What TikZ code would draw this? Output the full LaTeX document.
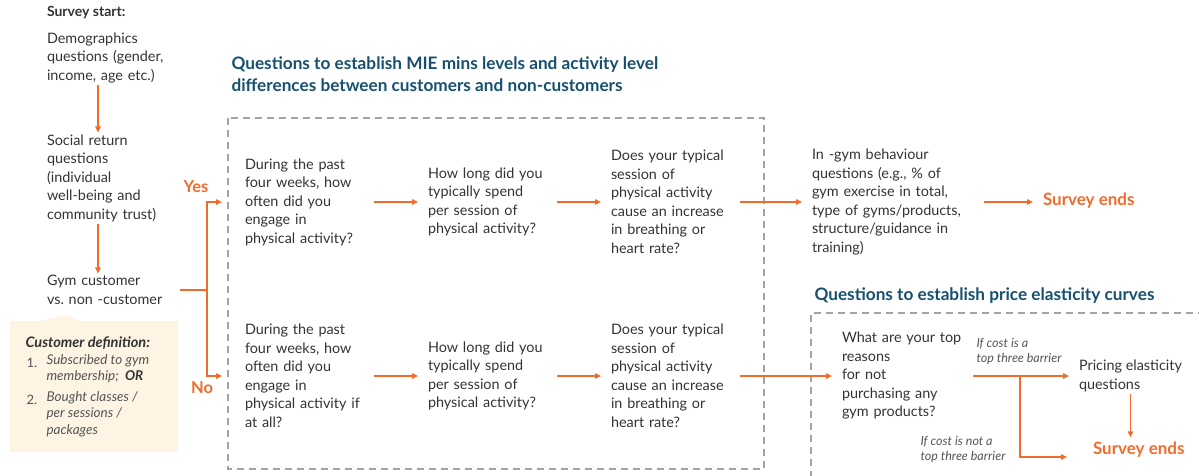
\documentclass[tikz,border=0pt]{standalone}
\usepackage{fontspec}
\setmainfont{Lato}
\usetikzlibrary{arrows.meta}
\definecolor{flow}{HTML}{F26B2B}
\definecolor{ink}{HTML}{333333}
\definecolor{soft}{HTML}{555555}
\definecolor{head}{HTML}{16506E}
\definecolor{frame}{HTML}{A3A3A3}
\definecolor{note}{HTML}{FDF4E3}

\begin{document}
\begin{tikzpicture}[x=1pt,y=-1pt,>={Triangle[length=6pt,width=5.5pt]},line width=1.1pt,
    q node/.style={anchor=west,align=left,inner sep=0pt,outer sep=10pt,text=ink,font=\fontsize{14.4}{18.5}\selectfont},
    side node/.style={q node,outer xsep=10pt,outer ysep=2pt},
    end node/.style={anchor=west,inner sep=0pt,outer xsep=10pt,outer ysep=5pt,text=flow,font=\fontsize{17}{20}\selectfont\bfseries},
    cond node/.style={anchor=west,align=left,inner sep=0pt,text=soft,font=\fontsize{12.5}{15}\selectfont\itshape},
    title node/.style={anchor=west,align=left,inner sep=0pt,text=head,font=\fontsize{17.2}{22}\selectfont\bfseries},
    item node/.style={anchor=north west,align=left,inner sep=0pt,text=soft,font=\fontsize{13.5}{16.5}\selectfont\itshape},
    box/.style={draw=frame,line width=1.2pt,dash pattern=on 7pt off 5pt}]
    \useasboundingbox (0,0) rectangle (1199,476);

    % left column
    \node[side node,font=\fontsize{14}{16}\selectfont\bfseries] (start) at (37,13) {Survey start:};
    \node[side node,text width=125] (demo) at (37,58) {Demographics\\questions (gender,\\income, age etc.)};
    \node[side node,text width=125] (social) at (37,178) {Social return\\questions\\(individual\\well-being and\\community trust)};
    \node[side node,text width=125] (gym) at (37,290) {Gym customer\\vs.\ non -customer};

    % customer definition note
    \fill[note] (10,321) -- (40,321) -- (68,315) -- (80,321) -- (178,321) -- (178,452) -- (10,452) -- cycle;
    \node[anchor=base west,inner sep=0pt,text=ink,font=\fontsize{14.5}{16}\selectfont\bfseries\itshape] (defn) at (25,347) {Customer definition:};
    \node[anchor=base west,inner sep=0pt,text=soft,font=\fontsize{13}{16}\selectfont] (n1) at (26,367) {1.};
    \node[item node] (item1) at (46,354) {Subscribed to gym\\membership;\ \ \textbf{\textcolor{ink}{OR}}};
    \node[anchor=base west,inner sep=0pt,text=soft,font=\fontsize{13}{16}\selectfont] (n2) at (26,404) {2.};
    \node[item node] (item2) at (46,391) {Bought classes /\\per sessions /\\packages};

    % first block
    \node[title node] (title1) at (231,74) {Questions to establish MIE mins levels and activity level\\differences between customers and non-customers};
    \draw[box] (228,118) rectangle (764,469);

    \node[q node,text width=119] (a1) at (235,202) {During the past\\four weeks, how\\often did you\\engage in\\physical activity?};
    \node[q node,text width=119] (b1) at (418,202) {How long did you\\typically spend\\per session of\\physical activity?};
    \node[q node,text width=119] (c1) at (601,202) {Does your typical\\session of\\physical activity\\cause an increase\\in breathing or\\heart rate?};
    \node[q node,text width=162] (d1) at (802,202) {In -gym behaviour\\questions (e.g., \% of\\gym exercise in total,\\type of gyms/products,\\structure/guidance in\\training)};
    \node[end node] (end1) at (1033,201) {Survey ends};

    \node[q node,text width=119] (a2) at (235,376) {During the past\\four weeks, how\\often did you\\engage in\\physical activity if\\at all?};
    \node[q node,text width=119] (b2) at (418,376) {How long did you\\typically spend\\per session of\\physical activity?};
    \node[q node,text width=119] (c2) at (601,376) {Does your typical\\session of\\physical activity\\cause an increase\\in breathing or\\heart rate?};

    % second block
    \node[title node] (title2) at (814,296) {Questions to establish price elasticity curves};
    \draw[box] (811,490) -- (811,313) -- (1215,313);

    \node[q node,text width=121] (e2) at (832,376) {What are your top\\reasons\\for not\\purchasing any\\gym products?};
    \node[side node] (price) at (1069,376) {Pricing elasticity\\questions};
    \node[end node] (end2) at (1083,450) {Survey ends};
    \node[cond node] (yescost) at (976,352) {If cost is a\\top three barrier};
    \node[cond node] (nocost) at (920,450) {If cost is not a\\top three barrier};

    \coordinate (split) at (207,290);
    \coordinate (costsplit) at (1020,376);

    \node[text=flow,font=\fontsize{16.5}{18}\selectfont\bfseries] (yes) at (196,187) {Yes};
    \node[text=flow,font=\fontsize{16.5}{18}\selectfont\bfseries] (no) at (202,388) {No};

    % connectors
    \begin{scope}[draw=flow,->]
        \draw ([xshift=-11.5pt]demo.south) -- ([xshift=-11.5pt]demo.south |- social.north);
        \draw ([xshift=-11.5pt]demo.south |- social.south) -- ([xshift=-11.5pt]demo.south |- gym.north);
        \draw[-] ([xshift=-2pt]gym.east) -- (split);
        \draw[shorten >=13pt] (split) |- (a1.west);
        \draw[shorten >=13pt] (split) |- (a2.west);
        \draw (a1) -- (b1);
        \draw (b1) -- (c1);
        \draw (c1) -- (d1);
        \draw (d1.east) -- (d1.east -| end1.west);
        \draw (a2) -- (b2);
        \draw (b2) -- (c2);
        \draw (c2.east) -- (e2.west);
        \draw (e2.east) -- (price.west);
        \draw[shorten >=16pt] (costsplit) |- ([yshift=-7pt]end2.west);
        \draw (price.south) -- (price.south |- end2.north);
    \end{scope}
\end{tikzpicture}
\end{document}
